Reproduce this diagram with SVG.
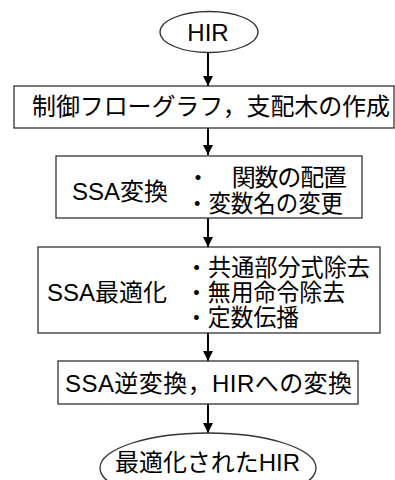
<svg xmlns="http://www.w3.org/2000/svg" width="395" height="480" viewBox="0 0 395 480">
<defs>
<marker id="ah" viewBox="0 0 10 10" refX="10" refY="5" markerWidth="10" markerHeight="10" markerUnits="userSpaceOnUse" orient="auto">
<path d="M0,0 L10,5 L0,10 Z" fill="#000"/>
</marker>
<style>
.box{fill:#fff;stroke:#333;stroke-width:1.3}
.t{font-family:"Liberation Sans","Noto Sans CJK JP",sans-serif;font-size:24px;fill:#000}
.c{stroke:#000;stroke-width:2;fill:none;marker-end:url(#ah)}
</style>
</defs>
<rect width="395" height="480" fill="#fff"/>
<g id="connectors">
<line class="c" x1="208" y1="53" x2="208" y2="86"/>
<line class="c" x1="208" y1="128" x2="208" y2="155"/>
<line class="c" x1="208" y1="218" x2="208" y2="247"/>
<line class="c" x1="208" y1="333" x2="208" y2="361"/>
<line class="c" x1="208" y1="404" x2="208" y2="433"/>
</g>
<g id="hir">
<ellipse class="box" cx="209" cy="32" rx="49" ry="20.5"/>
<text class="t" x="208" y="41" text-anchor="middle">HIR</text>
</g>
<g id="cfg">
<rect class="box" x="14" y="86" width="380" height="42"/>
<text class="t" x="32" y="115" textLength="358" lengthAdjust="spacing">制御フローグラフ，支配木の作成</text>
</g>
<g id="ssa">
<rect class="box" x="56" y="156" width="306" height="62"/>
<text class="t" x="72" y="200" textLength="96" lengthAdjust="spacingAndGlyphs">SSA変換</text>
<text class="t" x="186" y="186" textLength="161" lengthAdjust="spacing">・　関数の配置</text>
<text class="t" x="186" y="212" textLength="157" lengthAdjust="spacingAndGlyphs">・変数名の変更</text>
</g>
<g id="opt">
<rect class="box" x="38" y="247" width="342" height="86"/>
<text class="t" x="47" y="301" textLength="120" lengthAdjust="spacingAndGlyphs">SSA最適化</text>
<text class="t" x="185" y="276" textLength="185" lengthAdjust="spacingAndGlyphs">・共通部分式除去</text>
<text class="t" x="185" y="301" textLength="160" lengthAdjust="spacingAndGlyphs">・無用命令除去</text>
<text class="t" x="185" y="326" textLength="114" lengthAdjust="spacingAndGlyphs">・定数伝播</text>
</g>
<g id="inv">
<rect class="box" x="58" y="361" width="300" height="43"/>
<text class="t" x="65" y="392" textLength="287" lengthAdjust="spacing">SSA逆変換，HIRへの変換</text>
</g>
<g id="out">
<ellipse class="box" cx="208" cy="468" rx="108" ry="35"/>
<text class="t" x="115" y="471" textLength="185" lengthAdjust="spacingAndGlyphs">最適化されたHIR</text>
</g>
</svg>
